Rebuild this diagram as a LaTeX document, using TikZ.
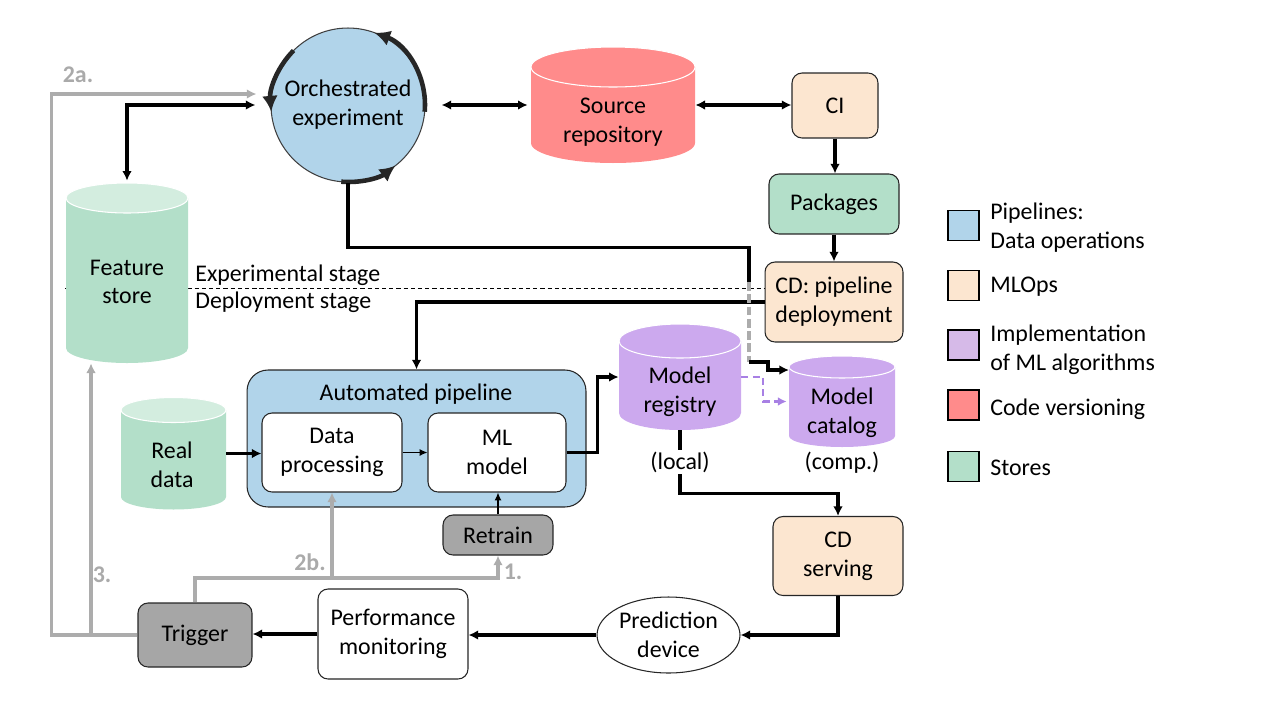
\documentclass[tikz,border=0pt]{standalone}
\usepackage{fontspec}
\setmainfont{Carlito}
\usetikzlibrary{arrows.meta,shapes.geometric,calc}
\definecolor{cblue}{RGB}{177,212,234}
\definecolor{cpeach}{RGB}{252,230,208}
\definecolor{cgreen}{RGB}{179,223,201}
\definecolor{cgreenlt}{RGB}{211,237,223}
\definecolor{cred}{RGB}{255,139,139}
\definecolor{cpurple}{RGB}{204,169,238}
\definecolor{cpurplelg}{RGB}{214,186,232}
\definecolor{cgraybox}{RGB}{166,166,166}
\definecolor{cgrayline}{RGB}{172,172,172}
\definecolor{cgraytxt}{RGB}{170,170,170}
\definecolor{cpdash}{RGB}{168,128,228}
\definecolor{carc}{RGB}{38,38,38}
% #1 cx, #2 top centre y, #3 bottom centre y, #4 half width, #5 y radius, #6 body, #7 top
\newcommand\cylfill[7]{%
  \fill[#6] (#1-#4,#2) -- (#1-#4,#3) arc[start angle=180,end angle=360,x radius=#4*0.02cm,y radius=#5*0.02cm] -- (#1+#4,#2) -- cycle;
  \fill[#7,draw=white,line width=0.6pt] (#1,#2) ellipse[x radius=#4*0.02cm,y radius=#5*0.02cm];
}
\begin{document}
\begin{tikzpicture}[x=0.02cm,y=-0.02cm,
  font=\fontsize{13.6}{16.4}\selectfont,
  box/.style={draw=black!85,line width=0.6pt,rounded corners=0.2cm,align=center,inner sep=0pt},
  txt/.style={align=center,inner sep=0pt},
  cylnode/.style={inner sep=0pt},
  conn/.style={draw=black,line width=2pt},
  arr/.style={conn,-{Latex[length=5.5pt,width=5.5pt]}},
  darr/.style={conn,{Latex[length=5.5pt,width=5.5pt]}-{Latex[length=5.5pt,width=5.5pt]}},
  tarr/.style={draw=black,line width=0.7pt,-{Latex[length=4.5pt,width=4pt]}},
  gline/.style={draw=cgrayline,line width=2pt},
  garr/.style={gline,-{Latex[length=5.5pt,width=5.5pt]}},
  glab/.style={text=cgraytxt,font=\fontsize{13.6}{16.4}\selectfont\bfseries,inner sep=0pt},
  arcst/.style={draw=carc,line width=2.6pt,-{Latex[length=9pt,width=9pt]}},
  legbox/.style={draw=black,line width=0.6pt,minimum width=0.62cm,minimum height=0.6cm,inner sep=0pt},
  legtxt/.style={anchor=west,align=left,inner sep=0pt}
]
\useasboundingbox (0,0) rectangle (1280,720);

% stage separator
\draw[line width=0.5pt,dash pattern=on 2.4pt off 1.7pt] (65,288) -- (765,288);

% cylinders
\cylfill{613}{67}{143}{82}{20}{cred}{cred}
\cylfill{127}{198}{348}{61}{15}{cgreen}{cgreenlt}
\cylfill{173.5}{410}{497}{52.5}{12.5}{cgreen}{cgreenlt}
\cylfill{680}{341}{413}{61}{17}{cpurple}{cpurple}
\cylfill{842}{367}{436}{53}{11}{cpurple}{cpurple}

\node[cylnode,minimum width=3.28cm,minimum height=2.32cm] (src) at (613,105) {};
\node[txt] (srct) at (613,122) {Source\\repository};
\node[cylnode,minimum width=2.44cm,minimum height=3.6cm] (fs) at (127,273) {};
\node[txt] (fst) at (127,282) {Feature\\store};
\node[cylnode,minimum width=2.1cm,minimum height=2.22cm] (rd) at (173.5,453.5) {};
\node[txt] (rdt) at (172,465) {Real\\data};
\node[cylnode,minimum width=2.44cm,minimum height=2.12cm] (mr) at (680,377) {};
\node[txt] (mrt) at (680,392) {Model\\registry};
\node[cylnode,minimum width=2.12cm,minimum height=1.82cm] (mc) at (842,401.5) {};
\node[txt] (mct) at (842,413) {Model\\catalog};
\node[txt] (comp) at (842,463) {(comp.)};

% orchestrated experiment
\node[circle,draw=black!75,line width=0.6pt,fill=cblue,minimum size=3.08cm,inner sep=0pt,align=center] (oe) at (348,105) {Orchestrated\\experiment};
\draw[arcst] ($(oe.center)+(-5:1.54cm)$) arc[start angle=-5,end angle=70,radius=1.54cm];
\draw[arcst] ($(oe.center)+(135:1.54cm)$) arc[start angle=135,end angle=185,radius=1.54cm];
\draw[arcst] ($(oe.center)+(265:1.54cm)$) arc[start angle=265,end angle=308,radius=1.54cm];

% boxes
\node[box,fill=cpeach,minimum width=1.72cm,minimum height=1.3cm] (ci) at (835,105.5) {CI};
\node[box,fill=cgreen,minimum width=2.6cm,minimum height=1.2cm] (pk) at (834,204) {Packages};
\node[box,fill=cpeach,minimum width=2.76cm,minimum height=1.6cm] (cdp) at (834,302) {CD: pipeline\\deployment};
\node[box,fill=cblue,rounded corners=0.42cm,minimum width=6.78cm,minimum height=2.74cm] (autop) at (416.5,438.5) {};
\node[txt] (autot) at (416,394) {Automated pipeline};
\node[box,fill=white,minimum width=2.8cm,minimum height=1.58cm] (dp) at (332,452.5) {Data\\processing};
\node[box,fill=white,minimum width=2.76cm,minimum height=1.58cm] (ml) at (497,452.5) {ML\\model};
\node[box,fill=cgraybox,minimum width=2.2cm,minimum height=0.8cm] (rt) at (498,535) {Retrain};
\node[box,fill=cpeach,minimum width=2.6cm,minimum height=1.58cm] (cds) at (838,556) {CD\\serving};
\node[ellipse,draw=black!85,line width=0.6pt,fill=white,minimum width=2.86cm,minimum height=1.52cm,inner sep=0pt,align=center] (pd) at (668.5,635) {Prediction\\device};
\node[box,fill=white,minimum width=3.0cm,minimum height=1.8cm] (pm) at (393,634) {Performance\\monitoring};
\node[box,fill=cgraybox,minimum width=2.28cm,minimum height=1.28cm] (tr) at (195,635) {Trigger};

% stage texts
\node[anchor=west,inner sep=0pt] (exps) at (195,275) {Experimental stage};
\node[anchor=west,inner sep=0pt] (deps) at (195,302) {Deployment stage};

% black connectors
\draw[darr] ([xshift=0.32cm]oe.east) -- ([xshift=-0.06cm]src.west);
\draw[darr] (src.east) -- (src.east -| ci.west);
\draw[darr] ([yshift=0.04cm]fs.north) |- ([xshift=-0.3cm]oe.west);
\draw[arr] (ci.south) -- (ci.south |- pk.north);
\draw[arr] (pk.south) -- (cdp.north);
\draw[arr] (cdp.west) -| (autop.north);
\draw[arr] (rd.east) -- (rd.east -| dp.west);
\draw[tarr] (dp.east) -- (ml.west);
\draw[tarr] (rt.north) -- (rt.north |- ml.south);
\draw[arr] (ml.east) -- ++(31,0) |- (mr.west);
\coordinate (k1) at (749,282);
\coordinate (k2) at (749,362);
\coordinate (mcin) at (789,370);
\draw[conn] (oe.south) -- ++(0,65) -| (k1);
\draw[draw=cgrayline,line width=2pt,dash pattern=on 5pt off 2pt] (k1) -- (k2);
\draw[arr] (k2) -- ++(19,0) -- ++(0,8) -- (mcin);
\draw[draw=cpdash,line width=1.2pt,dash pattern=on 4pt off 2.5pt,-{Latex[length=5pt,width=5pt]}] (mr.east) -- ++(22,0) |- ([xshift=-0.04cm]mc.west);
\draw[arr] (mr.south) -- ++(0,63) -| (cds.north);
\node[txt,fill=white,inner ysep=1pt] (loc) at (680,462) {(local)};
\draw[arr] (cds.south) |- (pd.east);
\draw[arr] (pd.west) -- (pd.west -| pm.east);
\draw[arr] (pm.west) -- (pm.west -| tr.east);

% gray trigger connectors
\draw[garr] (tr.west) -| ([xshift=-0.72cm]fs.south);
\draw[garr] (tr.west) -- ++(-86,0) |- ([xshift=-0.28cm,yshift=0.22cm]oe.west);
\coordinate (gj) at (332,578);
\draw[gline] (tr.north) |- (gj);
\draw[garr] (gj) -- (dp.south);
\draw[garr] (gj) -| (rt.south);
\node[glab] (l2a) at (78,75) {2a.};
\node[glab] (l2b) at (310,562) {2b.};
\node[glab] (l3) at (102,575) {3.};
\node[glab] (l1) at (513,572) {1.};

% legend
\node[legbox,fill=cblue] (g1) at (963.5,225.5) {};
\node[legtxt] (g1t) at (990,228) {Pipelines:\\Data operations};
\node[legbox,fill=cpeach] (g2) at (963.5,285.5) {};
\node[legtxt] (g2t) at (990,287) {MLOps};
\node[legbox,fill=cpurplelg] (g3) at (963.5,345) {};
\node[legtxt] (g3t) at (990,350) {Implementation\\of ML algorithms};
\node[legbox,fill=cred] (g4) at (963.5,405) {};
\node[legtxt] (g4t) at (990,409) {Code versioning};
\node[legbox,fill=cgreen] (g5) at (963.5,466.5) {};
\node[legtxt] (g5t) at (990,468) {Stores};
\end{tikzpicture}
\end{document}
